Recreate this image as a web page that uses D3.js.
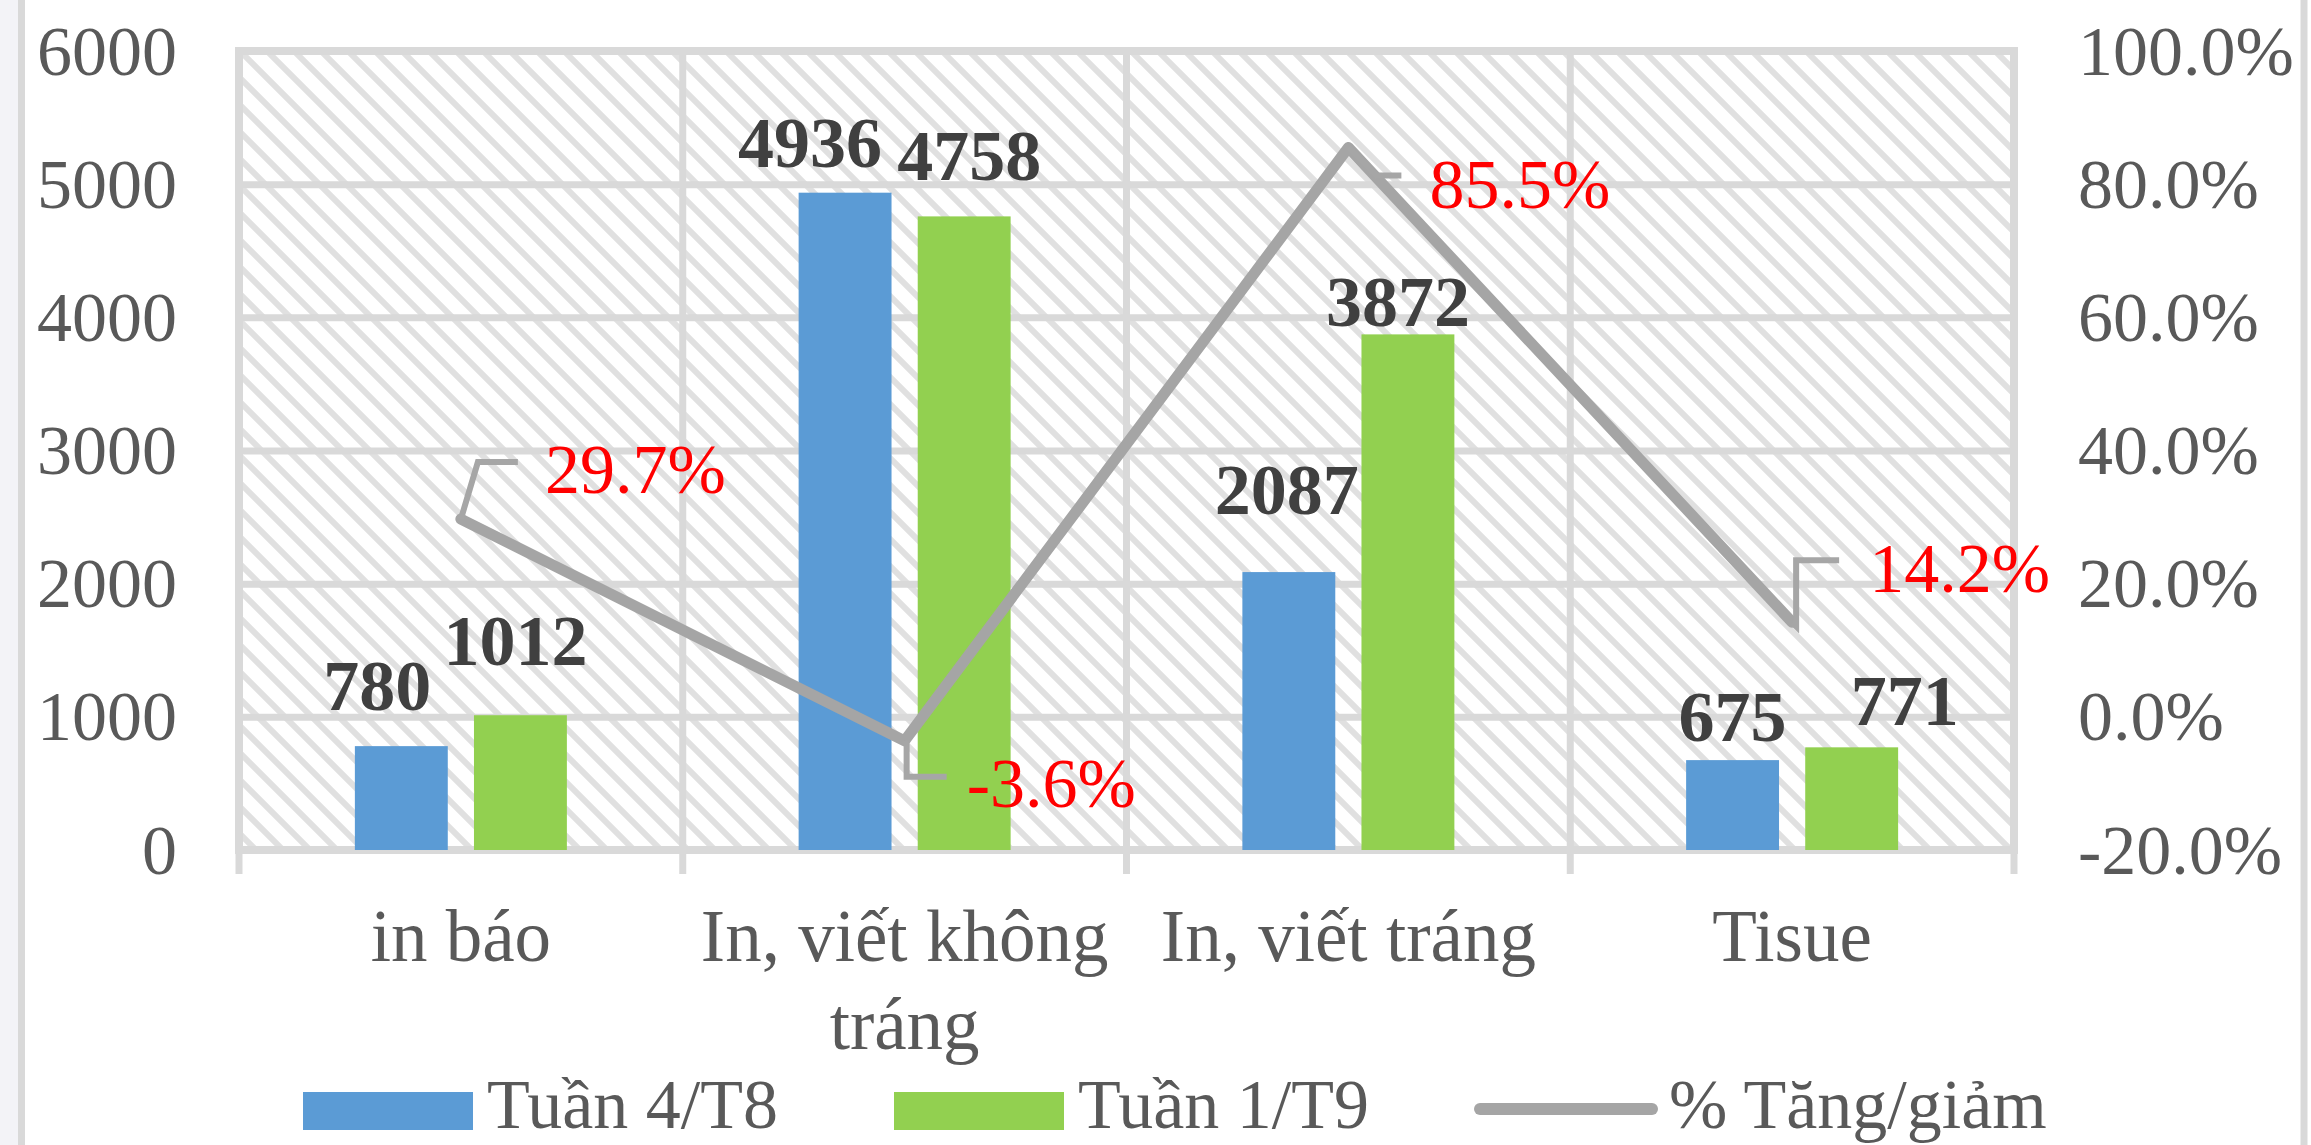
<!DOCTYPE html>
<html><head><meta charset="utf-8">
<script src="https://cdn.jsdelivr.net/npm/d3@7"></script>
<style>
html,body{margin:0;padding:0;background:#fff;}
svg{display:block;}
</style></head>
<body>
<svg id="chart" width="2311" height="1145"></svg>
<script>
// ---- data ----
const categories = ["in báo", "In, viết không tráng", "In, viết tráng", "Tisue"];
const seriesNames = ["Tuần 4/T8", "Tuần 1/T9", "% Tăng/giảm"];
const week4T8 = [780, 4936, 2087, 675];
const week1T9 = [1012, 4758, 3872, 771];
const pctChange = [0.297, -0.036, 0.855, 0.142];
const leftTicks = [0, 1000, 2000, 3000, 4000, 5000, 6000];
const rightTicks = [-0.2, 0, 0.2, 0.4, 0.6, 0.8, 1.0];

// label nudges (manual placement as in the original)
const barLabelNudge = [
  [[-24, -36], [-5, -50]],
  [[-35, -26], [5, -36]],
  [[-2, -58], [-10, -8]],
  [[0, -19], [53, -22]]
];
const pctLabelNudge = [[84, -26], [62, 66], [81, 60], [77, -30]];
const leaderPaths = [
  [[0, 0], [17, -57], [57, -57]],
  [[2, 4], [2, 36], [42, 36]],
  [[28, 28], [53, 28]],
  [[4, 4], [4, -62], [47, -62]]
];

// ---- layout ----
const W = 2311, H = 1145;
const plot = {left: 239, right: 2014, top: 51, bottom: 850};
const FONT = "'Liberation Serif','Times New Roman',serif";
const colors = {blue: "#5B9BD5", green: "#92D050", line: "#A5A5A5", grid: "#D9D9D9", text: "#595959"};

const svg = d3.select("#chart");

// outer frame
svg.append("rect").attr("x", 0).attr("y", 0).attr("width", 18).attr("height", H).attr("fill", "#F3F3F7");
svg.append("line").attr("x1", 21.5).attr("x2", 21.5).attr("y1", 0).attr("y2", H).attr("stroke", colors.grid).attr("stroke-width", 7);
svg.append("line").attr("x1", 2304).attr("x2", 2304).attr("y1", 0).attr("y2", H).attr("stroke", colors.grid).attr("stroke-width", 7);

// pattern
const defs = svg.append("defs");
const pat = defs.append("pattern").attr("id", "hatch").attr("patternUnits", "userSpaceOnUse")
  .attr("width", 27).attr("height", 27);
pat.append("rect").attr("width", 27).attr("height", 27).attr("fill", "#fff");
pat.append("path").attr("d", "M-7,-7 L34,34 M-7,20 L7,34 M20,-7 L34,7")
  .attr("stroke", "#E0E0E0").attr("stroke-width", 6);

// scales
const x0 = d3.scaleBand().domain(categories).range([plot.left, plot.right]).paddingInner(0).paddingOuter(0);
const bw = x0.bandwidth();
const x1 = d3.scaleBand().domain([0, 1]).range([bw / 2 - 106, bw / 2 + 106]).paddingInner(0.22);
const y = d3.scaleLinear().domain([0, 6000]).range([plot.bottom, plot.top]);
const yR = d3.scaleLinear().domain([-0.2, 1.0]).range([plot.bottom, plot.top]);

// background
svg.append("rect").attr("x", plot.left).attr("y", plot.top)
  .attr("width", plot.right - plot.left).attr("height", plot.bottom - plot.top)
  .attr("fill", "url(#hatch)");

// horizontal gridlines via axis
const gGrid = svg.append("g").attr("transform", `translate(${plot.left},0)`)
  .call(d3.axisLeft(y).tickValues(leftTicks).tickSize(-(plot.right - plot.left)).tickFormat(""));
gGrid.select(".domain").remove();
gGrid.selectAll("line").attr("stroke", colors.grid).attr("stroke-width", 7);

// vertical gridlines / category ticks
const bounds = categories.map(c => x0(c)).concat([plot.right]);
svg.append("g").selectAll("line").data(bounds).join("line")
  .attr("x1", d => d).attr("x2", d => d)
  .attr("y1", plot.top).attr("y2", plot.bottom + 24)
  .attr("stroke", colors.grid).attr("stroke-width", 7);

// plot border
svg.append("rect").attr("x", plot.left).attr("y", plot.top)
  .attr("width", plot.right - plot.left).attr("height", plot.bottom - plot.top)
  .attr("fill", "none").attr("stroke", colors.grid).attr("stroke-width", 8);

// left axis labels
const gL = svg.append("g").attr("transform", `translate(${plot.left - 62},0)`)
  .call(d3.axisLeft(y).tickValues(leftTicks).tickSize(0).tickPadding(0).tickFormat(d3.format("d")));
gL.select(".domain").remove();
gL.selectAll("text").attr("font-family", FONT).attr("font-size", 70).attr("fill", colors.text)
  .attr("dy", "0.33em").attr("x", 0);

// right axis labels
const gR = svg.append("g").attr("transform", `translate(${plot.right + 64},0)`)
  .call(d3.axisRight(yR).tickValues(rightTicks).tickSize(0).tickPadding(0).tickFormat(d3.format(".1%")));
gR.select(".domain").remove();
gR.selectAll("text").attr("font-family", FONT).attr("font-size", 70).attr("fill", colors.text)
  .attr("dy", "0.33em").attr("x", 0).text(d => d3.format(".1%")(d).replace("−", "-"));

// bars
const seriesVals = [week4T8, week1T9];
const seriesCols = [colors.blue, colors.green];
const gBars = svg.append("g");
categories.forEach((c, i) => {
  seriesVals.forEach((vals, s) => {
    gBars.append("rect")
      .attr("x", x0(c) + x1(s)).attr("width", x1.bandwidth())
      .attr("y", y(vals[i])).attr("height", y(0) - y(vals[i]))
      .attr("fill", seriesCols[s]);
  });
});

// line
const cx = c => x0(c) + bw / 2;
const linePts = categories.map((c, i) => [cx(c), yR(pctChange[i])]);
svg.append("path").attr("d", d3.line()(linePts))
  .attr("fill", "none").attr("stroke", colors.line).attr("stroke-width", 11)
  .attr("stroke-linejoin", "round").attr("stroke-linecap", "round");

// leader lines
linePts.forEach((p, i) => {
  const pts = leaderPaths[i].map(o => [p[0] + o[0], p[1] + o[1]]);
  if (leaderPaths[i][0][0] !== 0 || leaderPaths[i][0][1] !== 0) pts.unshift(p);
  svg.append("path").attr("d", d3.line()(pts)).attr("fill", "none")
    .attr("stroke", "#A6A6A6").attr("stroke-width", 6).attr("stroke-linejoin", "miter");
});

// bar labels
categories.forEach((c, i) => {
  seriesVals.forEach((vals, s) => {
    const n = barLabelNudge[i][s];
    svg.append("text")
      .attr("x", x0(c) + x1(s) + x1.bandwidth() / 2 + n[0])
      .attr("y", y(vals[i]) + n[1])
      .attr("text-anchor", "middle")
      .attr("font-family", FONT).attr("font-size", 72).attr("font-weight", "bold")
      .attr("fill", "#404040").text(vals[i]);
  });
});

// pct labels
linePts.forEach((p, i) => {
  const n = pctLabelNudge[i];
  svg.append("text").attr("x", p[0] + n[0]).attr("y", p[1] + n[1])
    .attr("font-family", FONT).attr("font-size", 70).attr("fill", "#FF0000")
    .text(d3.format(".1%")(pctChange[i]).replace("−", "-"));
});

// category labels with wrapping
const gX = svg.append("g");
categories.forEach(c => {
  const t = gX.append("text").attr("x", cx(c)).attr("y", 961)
    .attr("text-anchor", "middle").attr("font-family", FONT).attr("font-size", 73).attr("fill", colors.text);
  const words = c.split(" ");
  let line = [];
  let tspan = t.append("tspan").attr("x", cx(c)).attr("dy", 0);
  words.forEach(w => {
    line.push(w);
    tspan.text(line.join(" "));
    if (tspan.node().getComputedTextLength() > bw - 20 && line.length > 1) {
      line.pop();
      tspan.text(line.join(" "));
      line = [w];
      tspan = t.append("tspan").attr("x", cx(c)).attr("dy", 88).text(w);
    }
  });
});

// legend
const gLeg = svg.append("g");
const legY = 1128;
gLeg.append("rect").attr("x", 303).attr("y", 1092).attr("width", 170).attr("height", 38).attr("fill", colors.blue);
gLeg.append("text").attr("x", 487).attr("y", legY).attr("font-family", FONT).attr("font-size", 70)
  .attr("fill", colors.text).text(seriesNames[0]);
gLeg.append("rect").attr("x", 894).attr("y", 1092).attr("width", 170).attr("height", 38).attr("fill", colors.green);
gLeg.append("text").attr("x", 1078).attr("y", legY).attr("font-family", FONT).attr("font-size", 70)
  .attr("fill", colors.text).text(seriesNames[1]);
gLeg.append("line").attr("x1", 1480).attr("x2", 1652).attr("y1", 1109).attr("y2", 1109)
  .attr("stroke", colors.line).attr("stroke-width", 12).attr("stroke-linecap", "round");
gLeg.append("text").attr("x", 1669).attr("y", legY).attr("font-family", FONT).attr("font-size", 70)
  .attr("fill", colors.text).text(seriesNames[2]);
</script>
</body></html>
